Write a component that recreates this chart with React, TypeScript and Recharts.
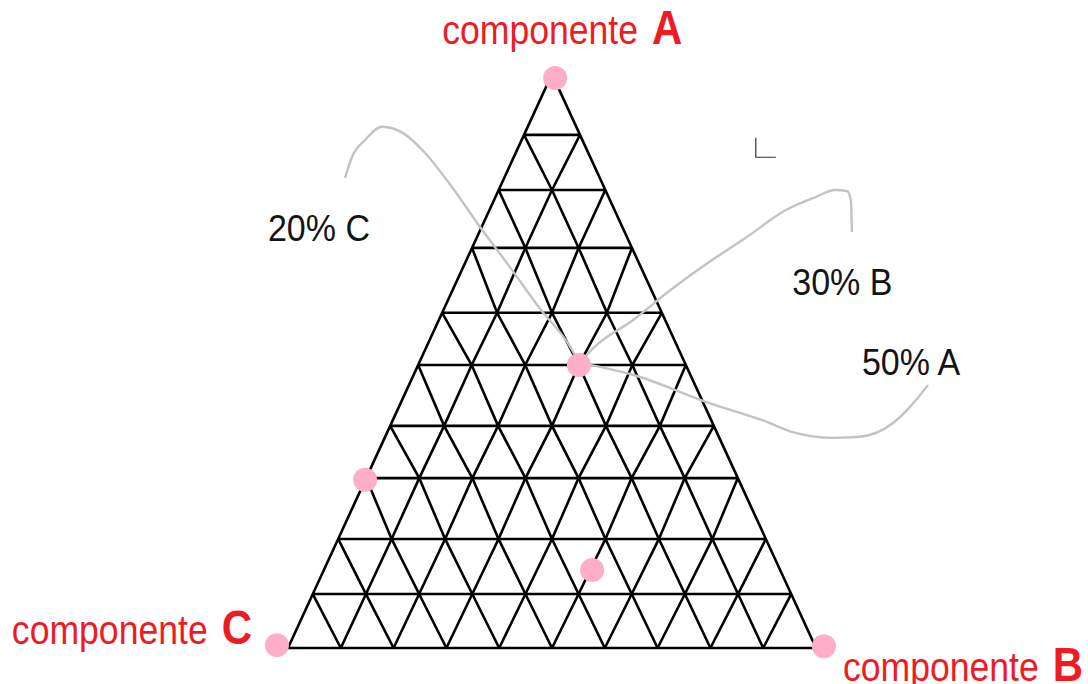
import React from 'react';
import { ComposedChart, Line, Scatter, XAxis, YAxis } from 'recharts';

// Triangle frame: x = share of the base (C at 0, B at 1), y = share of the height (base 0, apex A 1)

// height of every horizontal grid row, apex to base
const ROW_LEVELS = [1, 0.894, 0.798, 0.697, 0.584, 0.493, 0.387, 0.296, 0.19, 0.094, 0];

// pink markers
const DOTS_X = [0.506, -0.021, 1.015, 0.551, 0.146, 0.576];
const DOTS_Y = [0.993, 0.005, 0.003, 0.493, 0.293, 0.136];

// grey hand-drawn leaders from the 50/30/20 point to its labels
const LEADER_C = [
  { x: 0.108, y: 0.819 }, { x: 0.121, y: 0.855 }, { x: 0.146, y: 0.885 }, { x: 0.178, y: 0.908 },
  { x: 0.218, y: 0.897 }, { x: 0.254, y: 0.868 }, { x: 0.305, y: 0.81 }, { x: 0.364, y: 0.733 },
  { x: 0.42, y: 0.664 }, { x: 0.479, y: 0.589 }, { x: 0.53, y: 0.531 }, { x: 0.551, y: 0.498 },
];
const LEADER_B = [
  { x: 0.5625, y: 0.507 }, { x: 0.58, y: 0.524 }, { x: 0.653, y: 0.571 }, { x: 0.725, y: 0.624 },
  { x: 0.797, y: 0.672 }, { x: 0.869, y: 0.716 }, { x: 0.943, y: 0.763 }, { x: 1.0, y: 0.786 },
  { x: 1.036, y: 0.798 }, { x: 1.059, y: 0.796 }, { x: 1.066, y: 0.78 }, { x: 1.068, y: 0.725 },
];
const LEADER_A = [
  { x: 0.5625, y: 0.495 }, { x: 0.653, y: 0.476 }, { x: 0.797, y: 0.427 }, { x: 0.907, y: 0.394 },
  { x: 0.956, y: 0.376 }, { x: 1.032, y: 0.366 }, { x: 1.083, y: 0.368 }, { x: 1.146, y: 0.392 },
  { x: 1.178, y: 0.42 }, { x: 1.212, y: 0.458 },
];

// little corner stroke near the top right
const CORNER_MARK = [{ x: 0.886, y: 0.889 }, { x: 0.886, y: 0.855 }, { x: 0.924, y: 0.855 }];

// vertex names and the composition read-outs
const VERTEX_NAMES = ['A', 'C', 'B'];
const VERTEX_X = [0.292, -0.523, 1.051];
const VERTEX_Y = [1.052, 0.007, -0.058];

const SHARE_TEXT = ['20% C', '30% B', '50% A'];
const SHARE_X = [-0.038, 0.955, 1.087];
const SHARE_Y = [0.709, 0.615, 0.476];

// page frame in pixels, only used to set the axis domains
const FRAME = { left: 288, right: 816, apex: 74, base: 648, width: 1088, height: 684 };
const spanX = FRAME.right - FRAME.left;
const spanY = FRAME.base - FRAME.apex;
const xDomain = [-FRAME.left / spanX, (FRAME.width - FRAME.left) / spanX];
const yDomain = [-(FRAME.height - FRAME.base) / spanY, FRAME.base / spanY];

const FONT = '"Liberation Sans", Arial, sans-serif';
const PINK = '#FFAEC9';
const RED = '#ED1C24';
const GREY = '#C3C3C3';

// lattice point j on row r of the ternary grid
function rowPoint(r: number, j: number) {
  const level = ROW_LEVELS[r];
  const step = r === 0 ? 0 : (1 - level) / r;
  return { x: level / 2 + j * step, y: level };
}

const gridLines: { x: number; y: number }[][] = [];
for (let r = 1; r < ROW_LEVELS.length; r++) {
  gridLines.push([rowPoint(r, 0), rowPoint(r, r)]);
}
const last = ROW_LEVELS.length - 1;
for (let j = 0; j < last; j++) {
  const pts = [];
  for (let r = j; r <= last; r++) pts.push(rowPoint(r, j));
  gridLines.push(pts);
}
for (let m = 0; m < last; m++) {
  const pts = [];
  for (let r = m; r <= last; r++) pts.push(rowPoint(r, r - m));
  gridLines.push(pts);
}

const dots = DOTS_X.map((x, i) => ({ x, y: DOTS_Y[i] }));
const vertexLabels = VERTEX_NAMES.map((name, i) => ({ x: VERTEX_X[i], y: VERTEX_Y[i], name }));
const shareLabels = SHARE_TEXT.map((text, i) => ({ x: SHARE_X[i], y: SHARE_Y[i], text }));

const VertexLabel = (props: any) => {
  const { cx, cy, payload } = props;
  return (
    <text transform={`translate(${cx},${cy}) scale(1,1.14)`} fontFamily={FONT} fontSize={35.6} fill={RED}>
      componente
      <tspan dx={14} fontSize={42} fontWeight="bold">{payload.name}</tspan>
    </text>
  );
};

const ShareLabel = (props: any) => {
  const { cx, cy, payload } = props;
  return (
    <text transform={`translate(${cx},${cy}) scale(1,1.06)`} fontFamily={FONT} fontSize={34} fill="#141414">
      {payload.text}
    </text>
  );
};

const PinkDot = (props: any) => <circle cx={props.cx} cy={props.cy} r={12} fill={PINK} />;

export default function App() {
  return (
    <div style={{ position: 'absolute', left: 0, top: 0, width: FRAME.width, height: FRAME.height, background: '#fff' }}>
      <ComposedChart width={FRAME.width} height={FRAME.height} margin={{ top: 0, right: 0, bottom: 0, left: 0 }}>
        <XAxis type="number" dataKey="x" domain={xDomain} hide />
        <YAxis type="number" dataKey="y" domain={yDomain} hide />
        {gridLines.map((pts, i) => (
          <Line
            key={`g${i}`}
            data={pts}
            dataKey="y"
            type="linear"
            stroke="#000"
            strokeWidth={2.6}
            dot={false}
            activeDot={false}
            isAnimationActive={false}
          />
        ))}
        {[LEADER_C, LEADER_B, LEADER_A].map((pts, i) => (
          <Line
            key={`l${i}`}
            data={pts}
            dataKey="y"
            type="monotoneX"
            stroke={GREY}
            strokeWidth={2.4}
            dot={false}
            activeDot={false}
            isAnimationActive={false}
          />
        ))}
        <Line
          data={CORNER_MARK}
          dataKey="y"
          type="linear"
          stroke="#333"
          strokeWidth={1.2}
          dot={false}
          activeDot={false}
          isAnimationActive={false}
        />
        <Scatter data={dots} dataKey="y" shape={PinkDot} isAnimationActive={false} />
        <Scatter data={vertexLabels} dataKey="y" shape={VertexLabel} isAnimationActive={false} />
        <Scatter data={shareLabels} dataKey="y" shape={ShareLabel} isAnimationActive={false} />
      </ComposedChart>
    </div>
  );
}
